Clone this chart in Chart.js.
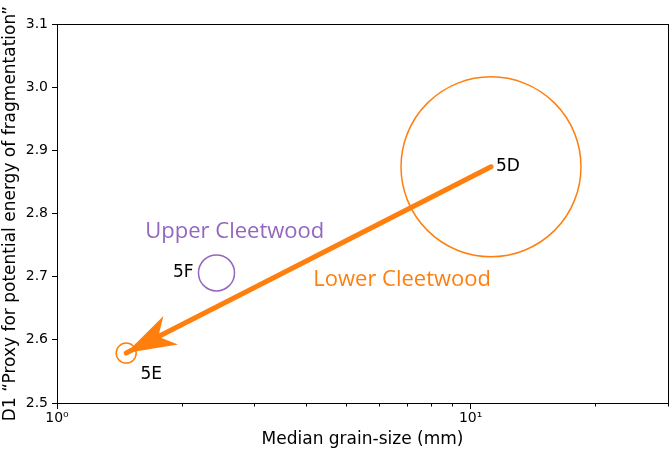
<!DOCTYPE html>
<html lang="en">
<head>
  <meta charset="UTF-8">
  <title>Grain size vs D1</title>
  <script src="https://cdn.jsdelivr.net/npm/chart.js"></script>
  <style>
    html, body { margin: 0; padding: 0; background: #fff; }
    #wrap { width: 671px; height: 453px; }
  </style>
</head>
<body>
<div id="wrap">
  <canvas id="grainChart"></canvas>
</div>

<script>
  // values
  const samples = ['5D', '5E', '5F'];
  const grainSize = [11.2, 1.47, 2.43];       // median grain size, mm
  const d1 = [2.874, 2.579, 2.706];           // proxy for potential energy of fragmentation
  const unitOf = ['Lower', 'Lower', 'Upper'];

  const groupNames = ['Upper Cleetwood', 'Lower Cleetwood'];
  const groupX = [2.69, 6.83];
  const groupY = [2.771, 2.695];

  const xTickValues = [1, 2, 3, 4, 5, 6, 7, 8, 9, 10, 20, 30];
  const xTickLabels = { 1: '10\u2070', 10: '10\u00b9' };
  const yTicks = [2.5, 2.6, 2.7, 2.8, 2.9, 3.0, 3.1];

  const ORANGE = '#ff7f0e';
  const PURPLE = '#9467bd';

  const pt = i => ({ x: grainSize[i], y: d1[i] });
  const idx = name => samples.indexOf(name);

  // frame, minor ticks, arrow head, text labels
  const extras = {
    id: 'extras',
    afterDatasetsDraw(chart) {
      const ctx = chart.ctx;
      const xs = chart.scales.x, ys = chart.scales.y;
      const a = chart.chartArea;

      // arrow head on the end of the shaft
      const meta = chart.getDatasetMeta(0);
      const p0 = meta.data[0], p1 = meta.data[1];
      let ux = p1.x - p0.x, uy = p1.y - p0.y;
      const len = Math.hypot(ux, uy);
      ux /= len; uy /= len;
      const bx = -ux, by = -uy, nx = -uy, ny = ux;
      const L = 50, W = 16, notch = 36;
      ctx.save();
      ctx.fillStyle = ORANGE;
      ctx.beginPath();
      ctx.moveTo(p1.x, p1.y);
      ctx.lineTo(p1.x + bx * L + nx * W, p1.y + by * L + ny * W);
      ctx.lineTo(p1.x + bx * notch, p1.y + by * notch);
      ctx.lineTo(p1.x + bx * L - nx * W, p1.y + by * L - ny * W);
      ctx.closePath();
      ctx.fill();
      ctx.restore();

      // sample labels
      ctx.save();
      ctx.fillStyle = '#000';
      ctx.font = '17px "DejaVu Sans"';
      ctx.textBaseline = 'middle';
      samples.forEach((s, i) => {
        const px = xs.getPixelForValue(grainSize[i]);
        const py = ys.getPixelForValue(d1[i]);
        if (s === '5D') { ctx.textAlign = 'left'; ctx.fillText(s, px + 5, py); }
        if (s === '5F') { ctx.textAlign = 'right'; ctx.fillText(s, px - 23, py); }
        if (s === '5E') { ctx.textAlign = 'center'; ctx.fillText(s, px + 25, py + 21); }
      });

      // unit labels
      ctx.font = '22px "Open Sans"';
      ctx.textAlign = 'center';
      groupNames.forEach((g, i) => {
        ctx.fillStyle = g.startsWith('Upper') ? PURPLE : ORANGE;
        ctx.fillText(g, xs.getPixelForValue(groupX[i]), ys.getPixelForValue(groupY[i]));
      });
      ctx.restore();

      // frame
      ctx.save();
      ctx.strokeStyle = '#000';
      ctx.lineWidth = 1;
      ctx.strokeRect(a.left + 0.5, a.top + 0.5, a.right - a.left, a.bottom - a.top);

      // minor ticks on x
      ctx.beginPath();
      xs.ticks.forEach(t => {
        if (xTickLabels[t.value]) return;
        const px = Math.round(xs.getPixelForValue(t.value)) + 0.5;
        ctx.moveTo(px, a.bottom);
        ctx.lineTo(px, a.bottom + 3.5);
      });
      ctx.stroke();
      ctx.restore();
    }
  };

  new Chart(document.getElementById('grainChart'), {
    type: 'scatter',
    data: {
      datasets: [
        {
          // arrow shaft 5D -> 5E
          data: [pt(idx('5D')), pt(idx('5E'))],
          showLine: true,
          borderColor: ORANGE,
          borderWidth: 5,
          borderCapStyle: 'round',
          pointRadius: 0,
          clip: false
        },
        {
          data: samples.map((s, i) => pt(i)).filter((p, i) => unitOf[i] === 'Lower'),
          borderColor: ORANGE,
          backgroundColor: 'rgba(0,0,0,0)',
          borderWidth: 1.5,
          pointRadius: [90, 10],
          pointHoverRadius: [90, 10],
          clip: false
        },
        {
          data: samples.map((s, i) => pt(i)).filter((p, i) => unitOf[i] === 'Upper'),
          borderColor: PURPLE,
          backgroundColor: 'rgba(0,0,0,0)',
          borderWidth: 1.5,
          pointRadius: 18,
          pointHoverRadius: 18,
          clip: false
        }
      ]
    },
    options: {
      animation: false,
      responsive: true,
      maintainAspectRatio: false,
      events: [],
      layout: { autoPadding: false, padding: { top: 24, right: 3, left: 0, bottom: 0 } },
      plugins: {
        legend: { display: false },
        tooltip: { enabled: false }
      },
      scales: {
        x: {
          type: 'logarithmic',
          min: 1,
          max: 30,
          afterFit: s => { s.height = 50; },
          afterBuildTicks: s => { s.ticks = xTickValues.map(v => ({ value: v })); },
          grid: {
            drawOnChartArea: false,
            tickLength: 6,
            tickColor: c => xTickLabels[c.tick.value] ? '#000' : 'rgba(0,0,0,0)'
          },
          border: { display: true, color: '#000', width: 1 },
          ticks: {
            autoSkip: false,
            maxRotation: 0,
            padding: 1,
            color: '#000',
            font: { family: 'DejaVu Sans', size: 14 },
            callback: v => xTickLabels[v] || ''
          },
          title: {
            display: true,
            text: 'Median grain-size (mm)',
            color: '#000',
            font: { family: 'DejaVu Sans', size: 17 },
            padding: { top: 0, bottom: 3 }
          }
        },
        y: {
          min: 2.5,
          max: 3.1,
          afterFit: s => { s.width = 57; },
          afterBuildTicks: s => { s.ticks = yTicks.map(v => ({ value: v })); },
          grid: { drawOnChartArea: false, tickLength: 5, tickColor: '#000' },
          border: { display: true, color: '#000', width: 1 },
          ticks: {
            padding: 4,
            color: '#000',
            font: { family: 'DejaVu Sans', size: 14 },
            callback: v => Number(v).toFixed(1)
          },
          title: {
            display: true,
            text: 'D1 \u201cProxy for potential energy of fragmentation\u201d',
            color: '#000',
            font: { family: 'DejaVu Sans', size: 17 },
            padding: 0
          }
        }
      }
    },
    plugins: [extras]
  });
</script>
</body>
</html>
